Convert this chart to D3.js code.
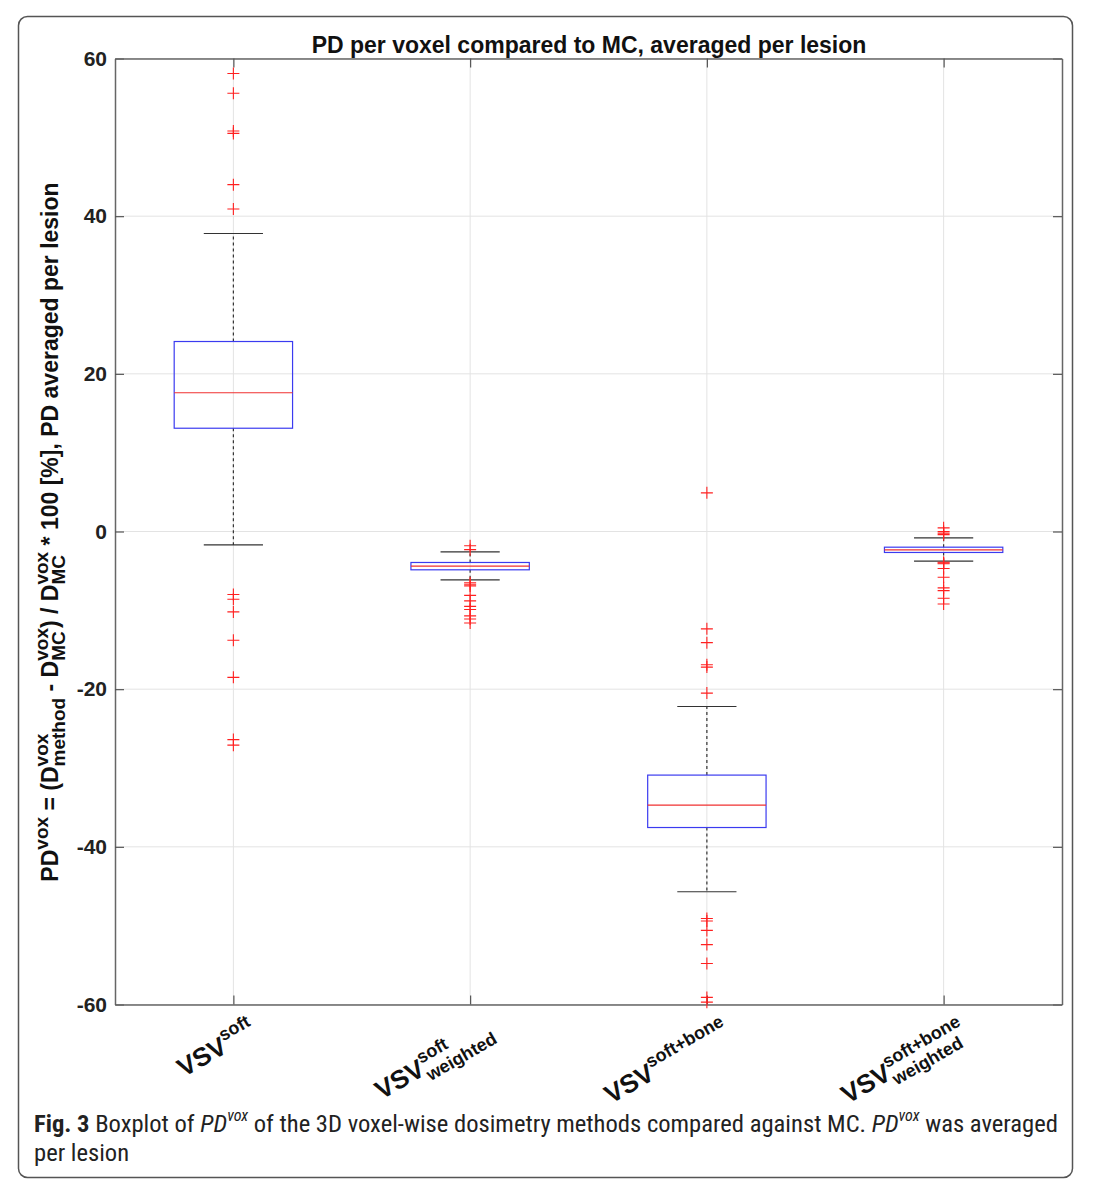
<!DOCTYPE html>
<html><head><meta charset="utf-8">
<script src="https://cdn.jsdelivr.net/npm/d3@7"></script>
<style>
html,body{margin:0;padding:0;background:#fff;}
svg{display:block;}
text{white-space:pre;}
</style></head>
<body>
<svg id="chart" width="1093" height="1200"></svg>
<script>
// ---------------- data ----------------
const categories = ["VSV_soft", "VSV_soft_weighted", "VSV_softbone", "VSV_softbone_weighted"];
const q1Values      = [13.1, -4.86, -37.55, -2.66];
const medianValues  = [17.6, -4.4, -34.7, -2.33];
const q3Values      = [24.1, -3.93, -30.9, -1.99];
const lowerWhiskers = [-1.7, -6.13, -45.7, -3.76];
const upperWhiskers = [37.8, -2.58, -22.2, -0.8];
const outliers = [
  [58.1, 55.6, 50.8, 50.5, 44.0, 40.9, -8.0, -8.6, -10.2, -13.8, -18.5, -26.4, -27.1],
  [-1.8, -2.3, -6.5, -6.7, -6.9, -8.1, -8.8, -9.5, -9.9, -10.7, -11.1, -11.6],
  [4.9, -12.35, -14.1, -16.9, -17.2, -20.5, -49.1, -49.4, -50.6, -52.4, -54.8, -59.1, -59.7],
  [0.46, 0.0, -0.2, -0.4, -3.9, -4.0, -4.1, -4.7, -5.8, -7.15, -7.5, -8.46, -9.2]
];
const yTicks = [-60, -40, -20, 0, 20, 40, 60];
// tick label pieces: [base, superscript, subscript]
const tickLabelParts = [
  ["VSV", "soft", ""],
  ["VSV", "soft", "weighted"],
  ["VSV", "soft+bone", ""],
  ["VSV", "soft+bone", "weighted"]
];
const titleText = "PD per voxel compared to MC, averaged per lesion";

// ---------------- layout ----------------
const svg = d3.select("#chart");
const plot = {left: 115, right: 1062, top: 58.5, bottom: 1004.5};
const x = d3.scaleLinear().domain([0.5, 4.5]).range([plot.left, plot.right]);
const y = d3.scaleLinear().domain([-60, 60]).range([plot.bottom, plot.top]);
const FONT = "'Liberation Sans', Arial, Helvetica, sans-serif";

// outer frame
svg.append("rect").attr("x", 18.5).attr("y", 16.5).attr("width", 1054).attr("height", 1161)
  .attr("rx", 9).attr("fill", "none").attr("stroke", "#555").attr("stroke-width", 1.5);

const g = svg.append("g");

// grid
g.selectAll(".hgrid").data(yTicks).join("line")
  .attr("x1", plot.left).attr("x2", plot.right)
  .attr("y1", d => y(d)).attr("y2", d => y(d))
  .attr("stroke", "#e3e3e3").attr("stroke-width", 1);
g.selectAll(".vgrid").data(categories).join("line")
  .attr("x1", (d, i) => x(i + 1)).attr("x2", (d, i) => x(i + 1))
  .attr("y1", plot.top).attr("y2", plot.bottom)
  .attr("stroke", "#e3e3e3").attr("stroke-width", 1);

// axes (MATLAB-style box with inward ticks)
const tickLen = 9;
const axLeft = g.append("g").attr("transform", `translate(${plot.left},0)`)
  .call(d3.axisLeft(y).tickValues(yTicks).tickSizeInner(-tickLen).tickSizeOuter(0).tickPadding(8)
    .tickFormat(d => String(d)));
const axRight = g.append("g").attr("transform", `translate(${plot.right},0)`)
  .call(d3.axisRight(y).tickValues(yTicks).tickSizeInner(-tickLen).tickSizeOuter(0).tickFormat(""));
const axBottom = g.append("g").attr("transform", `translate(0,${plot.bottom})`)
  .call(d3.axisBottom(x).tickValues([1, 2, 3, 4]).tickSizeInner(-tickLen).tickSizeOuter(0).tickFormat(""));
const axTop = g.append("g").attr("transform", `translate(0,${plot.top})`)
  .call(d3.axisTop(x).tickValues([1, 2, 3, 4]).tickSizeInner(-tickLen).tickSizeOuter(0).tickFormat(""));
[axLeft, axRight, axBottom, axTop].forEach(a => {
  a.select(".domain").attr("stroke", "#666").attr("stroke-width", 1.5);
  a.selectAll(".tick line").attr("stroke", "#555").attr("stroke-width", 1.2);
});
axLeft.selectAll(".tick text").attr("font-family", FONT).attr("font-weight", "bold")
  .attr("font-size", 21).attr("fill", "#222");

// boxplots
const boxHalf = 0.25, capHalf = 0.125;
const boxes = g.selectAll(".box").data(categories).join("g").attr("class", "box");
boxes.append("line") // upper whisker
  .attr("x1", (d, i) => x(i + 1)).attr("x2", (d, i) => x(i + 1))
  .attr("y1", (d, i) => y(q3Values[i])).attr("y2", (d, i) => y(upperWhiskers[i]))
  .attr("stroke", "#333").attr("stroke-dasharray", "3,3").attr("stroke-width", 1.2);
boxes.append("line") // lower whisker
  .attr("x1", (d, i) => x(i + 1)).attr("x2", (d, i) => x(i + 1))
  .attr("y1", (d, i) => y(q1Values[i])).attr("y2", (d, i) => y(lowerWhiskers[i]))
  .attr("stroke", "#333").attr("stroke-dasharray", "3,3").attr("stroke-width", 1.2);
[upperWhiskers, lowerWhiskers].forEach(arr => {
  boxes.append("line")
    .attr("x1", (d, i) => x(i + 1 - capHalf)).attr("x2", (d, i) => x(i + 1 + capHalf))
    .attr("y1", (d, i) => y(arr[i])).attr("y2", (d, i) => y(arr[i]))
    .attr("stroke", "#333").attr("stroke-width", 1.2);
});
boxes.append("rect")
  .attr("x", (d, i) => x(i + 1 - boxHalf)).attr("width", (d, i) => x(i + 1 + boxHalf) - x(i + 1 - boxHalf))
  .attr("y", (d, i) => y(q3Values[i])).attr("height", (d, i) => y(q1Values[i]) - y(q3Values[i]))
  .attr("fill", "none").attr("stroke", "#3b3bf0").attr("stroke-width", 1.2);
boxes.append("line")
  .attr("x1", (d, i) => x(i + 1 - boxHalf)).attr("x2", (d, i) => x(i + 1 + boxHalf))
  .attr("y1", (d, i) => y(medianValues[i])).attr("y2", (d, i) => y(medianValues[i]))
  .attr("stroke", "#f03030").attr("stroke-width", 1.2);

// outliers (+)
const plusHalf = 6;
outliers.forEach((vals, i) => {
  const cx = x(i + 1);
  const og = g.append("g");
  vals.forEach(v => {
    const cy = y(v);
    og.append("path").attr("d", `M${cx - plusHalf},${cy}H${cx + plusHalf}M${cx},${cy - plusHalf}V${cy + plusHalf}`)
      .attr("stroke", "#ff2020").attr("stroke-width", 1.1).attr("fill", "none");
  });
});

// title
svg.append("text").attr("x", 589).attr("y", 53)
  .attr("text-anchor", "middle").attr("font-family", FONT).attr("font-weight", "bold")
  .attr("font-size", 23).attr("fill", "#111").text(titleText);

// rich text helper
function rich(parent, segs, opt) {
  const fs = opt.fs, small = opt.small || fs * 0.7;
  let cx = 0;
  const mk = (t, size, dy, st) => {
    const el = parent.append("text").attr("x", cx).attr("y", dy)
      .attr("xml:space", "preserve")
      .attr("font-family", opt.family || FONT).attr("font-size", size)
      .attr("font-weight", (st && st.weight) || opt.weight || "normal")
      .attr("font-style", (st && st.italic) ? "italic" : "normal")
      .attr("fill", opt.fill || "#111").text(t);
    return el.node().getComputedTextLength();
  };
  segs.forEach(s => {
    if (s.k === "n") cx += mk(s.t, fs, 0, s);
    else if (s.k === "sup") cx += mk(s.t, small, -fs * 0.45, s);
    else if (s.k === "sub") cx += mk(s.t, small, fs * 0.3, s);
    else if (s.k === "supsub") {
      const w1 = mk(s.sup, small, -fs * 0.45, s);
      const w2 = mk(s.sub, small, fs * 0.32, s);
      cx += Math.max(w1, w2);
    }
  });
  return cx;
}

// y label
const yl = svg.append("g");
const ylInner = yl.append("g");
const ylW = rich(ylInner, [
  {k: "n", t: "PD"}, {k: "sup", t: "vox"}, {k: "n", t: " = (D"},
  {k: "supsub", sup: "vox", sub: "method"}, {k: "n", t: " - D"},
  {k: "supsub", sup: "vox", sub: "MC"}, {k: "n", t: ") / D"},
  {k: "supsub", sup: "vox", sub: "MC"}, {k: "n", t: " * 100 [%], PD averaged per lesion"}
], {fs: 23, small: 19, weight: "bold", fill: "#111"});
yl.attr("transform", `translate(58,${532 + ylW / 2}) rotate(-90)`);

// x tick labels
tickLabelParts.forEach((p, i) => {
  const lg = svg.append("g");
  const inner = lg.append("g");
  const segs = [{k: "n", t: p[0]}];
  if (p[2]) segs.push({k: "supsub", sup: p[1], sub: p[2]});
  else segs.push({k: "sup", t: p[1]});
  const w = rich(inner, segs, {fs: 26, small: 18, weight: "bold", fill: "#111"});
  inner.attr("transform", `translate(${-w},0)`);
  const ax = x(i + 1) + 24, ay = 1035;
  lg.attr("transform", `translate(${ax},${ay}) rotate(-30)`);
});

// caption
const capFam = "'Roboto Condensed', 'Liberation Sans Narrow', 'Open Sans', sans-serif";
const cap1 = svg.append("g").attr("transform", "translate(34,1132)");
rich(cap1, [
  {k: "n", t: "Fig. 3", weight: "bold"}, {k: "n", t: " Boxplot of "},
  {k: "n", t: "PD", italic: true}, {k: "sup", t: "vox", italic: true},
  {k: "n", t: " of the 3D voxel-wise dosimetry methods compared against MC. "},
  {k: "n", t: "PD", italic: true}, {k: "sup", t: "vox", italic: true},
  {k: "n", t: " was averaged"}
], {fs: 24.6, small: 16, family: capFam, fill: "#222"});
const cap2 = svg.append("g").attr("transform", "translate(34,1161)");
rich(cap2, [{k: "n", t: "per lesion"}], {fs: 24.6, family: capFam, fill: "#222"});
</script>
</body></html>
